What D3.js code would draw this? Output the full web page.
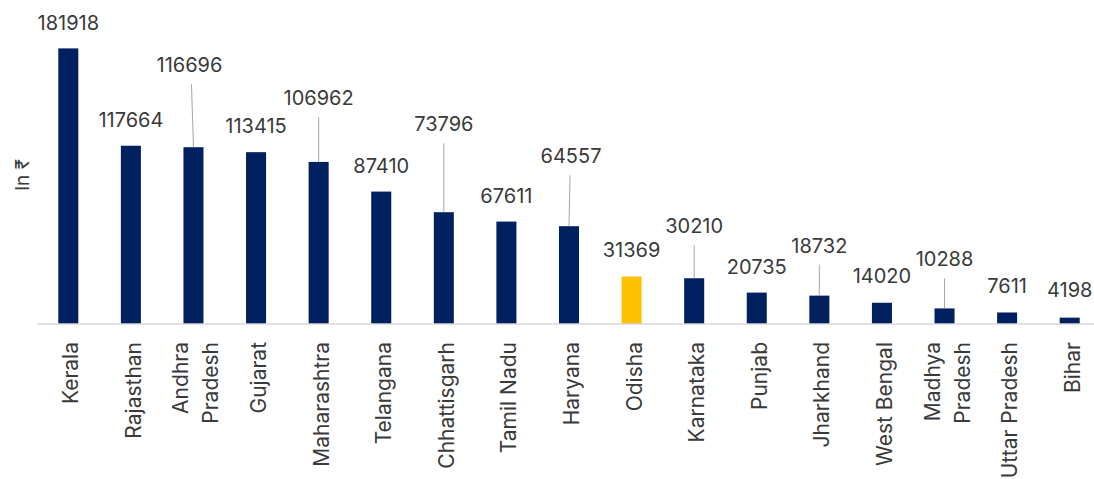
<!DOCTYPE html>
<html>
<head>
<meta charset="utf-8">
<script src="https://cdn.jsdelivr.net/npm/d3@7"></script>
<style>
  body { margin: 0; background: #fff; }
  text { font-family: Inter, "Noto Sans", "DejaVu Sans", sans-serif; fill: #3a3a3a; }
</style>
</head>
<body>
<svg id="chart" width="1094" height="479"></svg>
<script>
// data
var states = ["Kerala", "Rajasthan", "Andhra Pradesh", "Gujarat", "Maharashtra",
  "Telangana", "Chhattisgarh", "Tamil Nadu", "Haryana", "Odisha", "Karnataka",
  "Punjab", "Jharkhand", "West Bengal", "Madhya Pradesh", "Uttar Pradesh", "Bihar"];
var values = [181918, 117664, 116696, 113415, 106962, 87410, 73796, 67611, 64557,
  31369, 30210, 20735, 18732, 14020, 10288, 7611, 4198];
var highlight = ["Odisha"];
var yTitle = "In ₹";

// label layout (px above bar top, x nudge)
var labelRaise = [18, 19, 75, 19, 57, 19, 81, 19, 63, 19, 45, 19, 43, 20, 42, 19, 21];
var labelShift = [0, 0, -4, 0, 0, 0, 0, 0, 2, 0, 0, 0, 0, 0, 0, 0, 0];

var NAVY = "#002060", GOLD = "#ffc000";
var baseY = 324;

var svg = d3.select("#chart");

var x = d3.scaleBand().domain(states).range([37, 1101])
  .paddingInner(0.68).paddingOuter(0.34);
var y = d3.scaleLinear().domain([0, 200000]).range([baseY, 21]);

var rows = states.map(function (s, i) {
  return { state: s, value: values[i], raise: labelRaise[i], shift: labelShift[i] };
});

// bars
svg.selectAll("rect.bar").data(rows).enter()
  .append("rect")
  .attr("class", "bar")
  .attr("x", function (d) { return x(d.state); })
  .attr("width", x.bandwidth())
  .attr("y", function (d) { return y(d.value); })
  .attr("height", function (d) { return baseY - y(d.value); })
  .attr("fill", function (d) { return highlight.indexOf(d.state) >= 0 ? GOLD : NAVY; });

// axis line
var xAxis = svg.append("g")
  .attr("transform", "translate(0," + baseY + ")")
  .call(d3.axisBottom(x).tickSize(0).tickFormat(""));
xAxis.select(".domain").attr("stroke", "#d9d9d9").attr("stroke-width", 1.5)
  .attr("d", "M37,0H1094");

// category labels, rotated, wrapped when long
function cx(d) { return x(d.state) + x.bandwidth() / 2; }
svg.selectAll("g.cat").data(rows).enter()
  .append("g")
  .attr("class", "cat")
  .each(function (d) {
    var lines = d.state.length > 13 ? d.state.split(" ") : [d.state];
    var n = lines.length;
    var g = d3.select(this);
    lines.forEach(function (line, i) {
      var off = 10 + (i - (n - 1) / 2) * 30;
      g.append("text")
        .attr("transform", "translate(" + (cx(d) + off) + ",342) rotate(-90)")
        .attr("text-anchor", "end")
        .style("font-size", "21px")
        .text(line);
    });
  });

// leader lines for labels lifted away from their bar
svg.selectAll("line.leader").data(rows.filter(function (d) { return d.raise > 30; }))
  .enter()
  .append("line")
  .attr("class", "leader")
  .attr("x1", function (d) { return cx(d) + d.shift / 2; })
  .attr("x2", cx)
  .attr("y1", function (d) { return y(d.value) - d.raise + 12; })
  .attr("y2", function (d) { return y(d.value); })
  .attr("stroke", "#a6a6a6")
  .attr("stroke-width", 1);

// value labels
svg.selectAll("text.val").data(rows).enter()
  .append("text")
  .attr("class", "val")
  .attr("x", function (d) { return cx(d) + d.shift; })
  .attr("y", function (d) { return y(d.value) - d.raise; })
  .attr("text-anchor", "middle")
  .style("font-size", "20px")
  .text(function (d) { return d.value; });

// y title
svg.append("text")
  .attr("transform", "translate(29,175) rotate(-90)")
  .attr("text-anchor", "middle")
  .style("font-size", "19px")
  .text(yTitle);
</script>
</body>
</html>
